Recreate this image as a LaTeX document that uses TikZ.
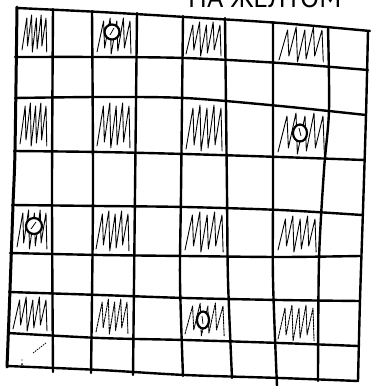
\documentclass[tikz,border=0pt]{standalone}
\usepackage{fontspec}
\newfontfamily\cyrfont{PT Sans}
\begin{document}
\begin{tikzpicture}[x=1pt,y=-1pt,
  gridline/.style={line width=2.4pt,line cap=round,line join=round},
  scribble/.style={line width=0.9pt,line join=round,line cap=round},
  dscribble/.style={scribble,dash pattern=on 2pt off 1pt},
  sun/.style={line width=2.2pt,fill=white}]
\useasboundingbox (0,0) rectangle (370,386);
\newcommand\scrib[5][scribble]{%
  \pgfmathsetmacro\ddx{(#4-#2-10)/5}%
  \draw[#1] (#2+4,#5-6) \foreach \i in {1,...,5}{ -- (#2+4+\i*\ddx,{#3+5+mod(\i,2)*3}) -- (#2+4+\i*\ddx+\ddx*0.15,{#5-4-mod(\i+1,3)*3})};}
% title (cut off at the top, as in the reference)
\node[anchor=base west,inner sep=0pt,font=\cyrfont\fontsize{28}{30}\selectfont] (title) at (188,7) {НА ЖЕЛТОМ};
% scribbles
\scrib{18}{10}{52}{56}
\scrib{93}{13}{136}{58}
\scrib{182}{17}{226}{60}
\scrib{275}{22}{328}{66}
\scrib{16}{98}{52}{150}
\scrib{93}{98}{135}{152}
\scrib{182}{100}{227}{155}
\scrib{274}{108}{329}{158}
\scrib{13}{205}{52}{253}
\scrib{92}{206}{134}{255}
\scrib{181}{207}{228}{256}
\scrib{274}{211}{321}{256}
\scrib{9}{292}{52}{335}
\scrib[dscribble]{92}{294}{133}{338}
\scrib[dscribble]{181}{298}{229}{340}
\scrib[dscribble]{274}{300}{319}{345}
% suns
\draw[sun] (112,32) ellipse[x radius=7.5,y radius=7.5];
\draw[line width=0.8pt] (110,35) -- (114,28);
\draw[sun] (300,133) ellipse[x radius=7,y radius=8.5];
\draw[line width=0.8pt] (299,128) -- (301,136);
\draw[sun] (34,226) ellipse[x radius=8,y radius=8];
\draw[line width=0.8pt] (31,229) -- (36,222);
\draw[sun] (203,320) ellipse[x radius=6,y radius=8.5];
\draw[line width=0.8pt] (202,316) -- (203,324);
% specks in bottom-left cell
\draw[line width=0.8pt,dash pattern=on 1.5pt off 1pt] (33,353) -- (46,343);
\fill (22,364) circle[radius=1];
\fill (22,360) circle[radius=0.6];
% grid: horizontal lines
\draw[gridline] plot[smooth] coordinates {(17,8) (100,12) (185,17) (280,23) (370,31)};
\draw[gridline] plot[smooth] coordinates {(15,57) (100,57) (185,58) (280,63) (368,70)};
\draw[gridline] plot[smooth] coordinates {(15,98) (100,97) (185,98) (280,106) (366,115)};
\draw[gridline] plot[smooth] coordinates {(14,151) (100,152) (185,154) (280,157) (364,160)};
\draw[gridline] plot[smooth] coordinates {(12,205) (100,206) (185,207) (280,210) (362,215)};
\draw[gridline] plot[smooth] coordinates {(10,253) (100,255) (185,256) (280,257) (360,256)};
\draw[gridline] plot[smooth] coordinates {(9,292) (100,295) (185,298) (280,300) (360,301)};
\draw[gridline] plot[smooth] coordinates {(8,333) (100,338) (185,340) (280,343) (358,346)};
\draw[gridline] plot[smooth] coordinates {(7,366) (100,370) (185,375) (280,378) (358,381)};
% grid: vertical lines
\draw[gridline,line width=3pt] plot[smooth] coordinates {(17,7) (15,150) (13,205) (10,290) (7,367)};
\draw[gridline] plot[smooth] coordinates {(53,9) (52,193) (53,372)};
\draw[gridline] plot[smooth] coordinates {(92,11) (93,193) (91,373)};
\draw[gridline] plot[smooth] coordinates {(137,13) (135,193) (133,375)};
\draw[gridline] plot[smooth] coordinates {(183,16) (181,193) (180,280) (183,376)};
\draw[gridline] plot[smooth] coordinates {(225,18) (227,193) (228,280) (232,378)};
\draw[gridline] plot[smooth] coordinates {(273,22) (273,193) (273,280) (277,386)};
\draw[gridline] plot[smooth] coordinates {(328,27) (329,110) (324,170) (319,260) (318,381)};
\draw[gridline] plot[smooth] coordinates {(368,31) (366,115) (363,210) (360,300) (358,381)};
\end{tikzpicture}
\end{document}
